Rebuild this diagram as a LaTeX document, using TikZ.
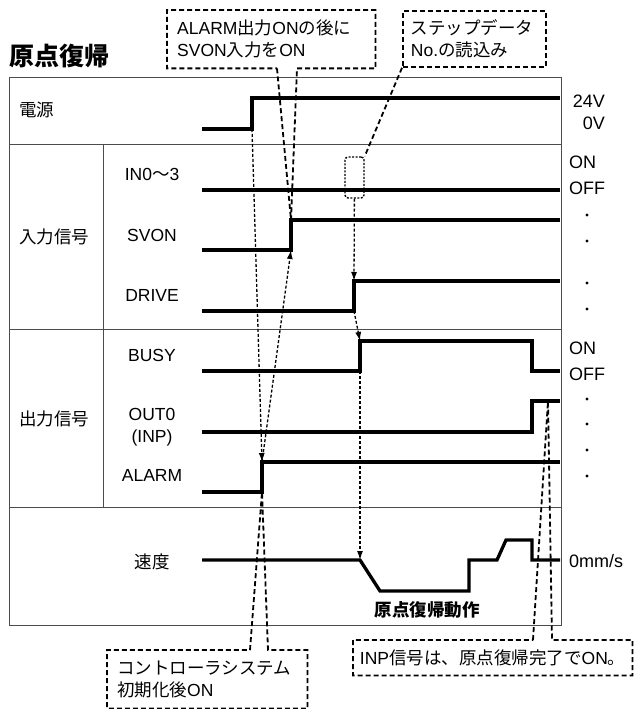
\documentclass[tikz,border=0pt]{standalone}
\usepackage{fontspec}
\setmainfont{Liberation Sans}
\newfontfamily\jp{Noto Sans CJK JP}
\usetikzlibrary{arrows.meta,calc}

\begin{document}
\begin{tikzpicture}[x=1pt,y=-1pt,font=\fontsize{17.5}{22}\selectfont,
  frm/.style={draw=black!70,line width=1pt},
  sig/.style={line width=3.3pt},
  cause/.style={line width=1.3pt,dash pattern=on 3pt off 2pt,-{Latex[length=9pt,width=6pt]}},
  callline/.style={line width=1.8pt,dash pattern=on 5pt off 3pt},
  call/.style={inner xsep=10pt,inner ysep=0pt,align=left,anchor=north west},
  lbl/.style={inner sep=0pt},
  rlbl/.style={inner sep=0pt,anchor=base west,font=\fontsize{18}{20}\selectfont}]
  \useasboundingbox (0,0) rectangle (634,709);
  % title and frame
  \node[lbl,anchor=west,font=\fontsize{25}{30}\selectfont\jp\bfseries] (ttl) at (9,56) {原点復帰};
  \draw[frm] (9,77) rectangle (561,625);
  \draw[frm] (9,144) -- (561,144) (9,329) -- (561,329) (9,507) -- (561,507) (103,144) -- (103,507);
  % row labels
  \node[lbl,anchor=west] (pwl) at (19,110) {\jp 電源};
  \node[lbl,anchor=west] (inl) at (19,237) {\jp 入力信号};
  \node[lbl,anchor=west] (outl) at (19,419) {\jp 出力信号};
  \node[lbl] (in0) at (152,174) {IN0{\jp ～}3};
  \node[lbl] (svon) at (152,235) {SVON};
  \node[lbl] (drv) at (152,295) {DRIVE};
  \node[lbl] (busy) at (152,355) {BUSY};
  \node[lbl,align=center] (out0) at (152,427) {OUT0\\(INP)};
  \node[lbl] (alm) at (152,475) {ALARM};
  \node[lbl] (spd) at (152,562) {\jp 速度};
  % levels on the right
  \node[rlbl,anchor=base east] (v24) at (605,107) {24V};
  \node[rlbl,anchor=base east] (v0) at (605,129) {0V};
  \node[rlbl] (on1) at (569,168) {ON};
  \node[rlbl] (off1) at (569,194) {OFF};
  \node[rlbl] (on2) at (569,354) {ON};
  \node[rlbl] (off2) at (569,380) {OFF};
  \node[rlbl] (zms) at (569,567) {0mm/s};
  \foreach \y in {215,241,283,309,399,424,450,476} \fill (587,\y) circle (1.6pt);
  % waveforms
  \draw[sig] (202,129) -- (252,129) coordinate (pwr) -- (252,98) -- (560,98);
  \draw[sig] (202,190) -- (560,190);
  \draw[sig] (202,250) -- (291,250) coordinate (svL) -- (291,220) coordinate (svH) -- (560,220);
  \draw[sig] (202,311) -- (354,311) coordinate (drL) -- (354,281) coordinate (drH) -- (560,281);
  \draw[sig] (202,371) -- (360,371) coordinate (bsL) -- (360,341) coordinate (bsH) -- (532,341) -- (532,371) -- (560,371);
  \draw[sig] (202,432) -- (532,432) -- (532,401) -- (560,401);
  \draw[sig] (202,492) -- (262,492) coordinate (alL) -- (262,462) coordinate (alH) -- (560,462);
  \draw[sig] (202,560) -- (360,560) coordinate (spS) -- (380,591) -- (469,591) -- (469,560) -- (497,560) -- (506,540) -- (532,540) -- (532,560) -- (560,560);
  \coordinate (inpT) at (548,401);
  \node[lbl,font=\fontsize{17.5}{22}\selectfont\jp\bfseries] (hm) at (427,610) {原点復帰動作};
  % cause and effect
  \node[draw,line width=1.4pt,dash pattern=on 2pt off 1.5pt,rounded corners=3pt,minimum width=19pt,minimum height=41pt,inner sep=0pt] (sel) at (354.5,177.5) {};
  \draw[cause] (pwr) -- (alH);
  \draw[cause] (alH) -- (svL);
  \draw[cause] (sel) -- (drH);
  \draw[cause] (drL) -- (bsH);
  \draw[cause] (bsL) -- (spS);
  % callouts
  \node[call,minimum width=208pt,minimum height=58pt,text width=188pt] (c1) at (167,10) {ALARM{\jp 出力}ON{\jp の後に}\\SVON{\jp 入力を}ON};
  \draw[callline] (277,0 |- c1.south) -- (svH) -- (297,0 |- c1.south) -- (c1.south east) -- (c1.north east) -- (c1.north west) -- (c1.south west) -- cycle;
  \node[call,draw,callline,minimum width=143pt,minimum height=56pt,inner xsep=8pt,text width=127pt] (st) at (402,10) {{\jp ステップデータ}\\No.{\jp の読込み}};
  \draw[callline] (st.south west) -- (sel.north east);
  \node[call,minimum width=200pt,minimum height=58pt,text width=180pt] (c3) at (107,650) {{\jp コントローラシステム}\\{\jp 初期化後}ON};
  \draw[callline] (250,0 |- c3.north) -- (alL) -- (268,0 |- c3.north) -- (c3.north east) -- (c3.south east) -- (c3.south west) -- (c3.north west) -- cycle;
  \node[call,inner xsep=6pt,minimum width=279pt,minimum height=35pt] (c4) at (353,640) {INP{\jp 信号は、原点復帰完了で}ON{\jp 。}};
  \draw[callline] (533,0 |- c4.north) -- (inpT) -- (552,0 |- c4.north) -- (c4.north east) -- (c4.south east) -- (c4.south west) -- (c4.north west) -- cycle;
\end{tikzpicture}
\end{document}
